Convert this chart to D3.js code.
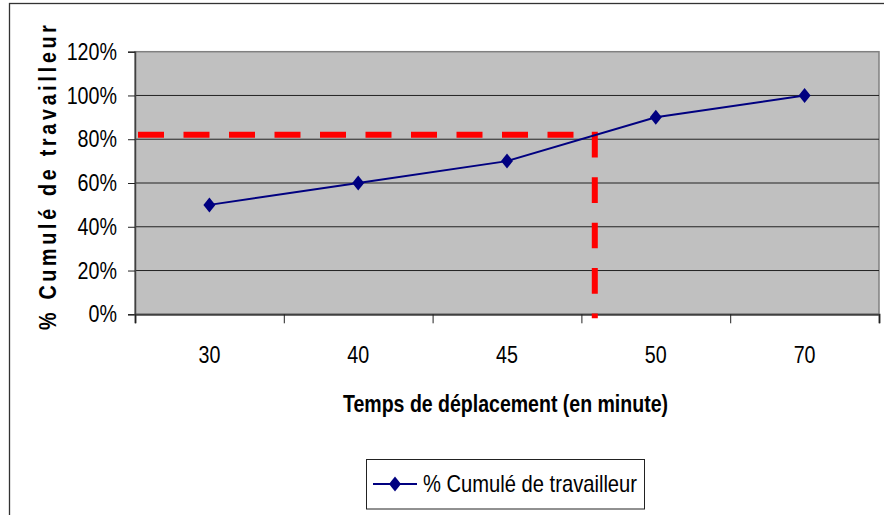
<!DOCTYPE html>
<html>
<head>
<meta charset="utf-8">
<script src="https://cdn.jsdelivr.net/npm/d3@7/dist/d3.min.js"></script>
<style>
  html, body { margin: 0; padding: 0; background: #fff; }
  svg { display: block; }
  text { font-family: "Liberation Sans", Arial, "Helvetica Neue", sans-serif; fill: #000; }
</style>
</head>
<body>
<svg id="chart" width="884" height="515"></svg>
<script>
// ---- data ----
const categories = ["30", "40", "45", "50", "70"];
const values = [0.50, 0.60, 0.70, 0.90, 1.00];
const yTicks = [0, 0.2, 0.4, 0.6, 0.8, 1.0, 1.2];
const seriesName = "% Cumulé de travailleur";
const xTitle = "Temps de déplacement (en minute)";
const yTitle = "% Cumulé de travailleur";
const refLevel = 0.82;   // horizontal reference (82 %)
const refIndex = 2.59;   // position along the category axis (between 45 and 50)

// ---- layout ----
const plot = { left: 135, top: 51.7, right: 879, bottom: 314.3 };
const FS = 24;
const NARROW = 0.82;     // narrow-face width ratio

const svg = d3.select("#chart");

// outer chart frame
svg.append("rect")
  .attr("x", 9.5).attr("y", 3.5).attr("width", 900).attr("height", 600)
  .attr("fill", "#fff").attr("stroke", "#333").attr("stroke-width", 1.3);

// scales
const xBand = d3.scaleBand().domain(categories).range([plot.left, plot.right]).padding(0);
const xIdx = d3.scaleLinear().domain([0, categories.length]).range([plot.left, plot.right]);
const y = d3.scaleLinear().domain([0, 1.2]).range([plot.bottom, plot.top]);

// plot background
svg.append("rect")
  .attr("x", plot.left).attr("y", plot.top)
  .attr("width", plot.right - plot.left).attr("height", plot.bottom - plot.top)
  .attr("fill", "#C0C0C0").attr("stroke", "#808080").attr("stroke-width", 1.5);

// gridlines
svg.append("g").selectAll("line")
  .data(yTicks.filter(d => d > 0 && d < 1.2))
  .join("line")
  .attr("x1", plot.left).attr("x2", plot.right)
  .attr("y1", d => y(d)).attr("y2", d => y(d))
  .attr("stroke", "#222").attr("stroke-width", 1);

// y axis
const yAxis = svg.append("g")
  .attr("transform", `translate(${plot.left},0)`)
  .call(d3.axisLeft(y).tickValues(yTicks).tickFormat(d3.format(".0%")).tickSize(7).tickPadding(11));
yAxis.select(".domain").attr("stroke", "#404040").attr("stroke-width", 1.5);
yAxis.selectAll(".tick line").attr("stroke", "#222");
yAxis.selectAll("text").attr("font-size", FS).attr("font-family", null).attr("dy", "0.32em");

// x axis: ticks at category boundaries
const xTickAxis = svg.append("g")
  .attr("transform", `translate(0,${plot.bottom})`)
  .call(d3.axisBottom(xIdx).tickValues(d3.range(categories.length + 1)).tickFormat("").tickSize(9));
xTickAxis.select(".domain").attr("stroke", "#404040").attr("stroke-width", 2);
xTickAxis.selectAll(".tick line").attr("stroke", "#222");

// x axis labels at band centres
const xLabAxis = svg.append("g")
  .attr("transform", `translate(0,${plot.bottom})`)
  .call(d3.axisBottom(xBand).tickSize(0).tickPadding(32));
xLabAxis.select(".domain").remove();
xLabAxis.selectAll("text").attr("font-size", FS).attr("font-family", null);

// reference lines (red dashed)
svg.append("line")
  .attr("x1", plot.left + 3).attr("x2", xIdx(refIndex + 0.5) - 3)
  .attr("y1", y(refLevel)).attr("y2", y(refLevel))
  .attr("stroke", "#FF0000").attr("stroke-width", 6).attr("stroke-dasharray", "26,19.5");
svg.append("line")
  .attr("x1", xIdx(refIndex + 0.5)).attr("x2", xIdx(refIndex + 0.5))
  .attr("y1", y(refLevel) - 3).attr("y2", plot.bottom + 4)
  .attr("stroke", "#FF0000").attr("stroke-width", 6).attr("stroke-dasharray", "25.7,19.7");

// series line
const cx = c => xBand(c) + xBand.bandwidth() / 2;
svg.append("path")
  .datum(values)
  .attr("fill", "none").attr("stroke", "#000080").attr("stroke-width", 2)
  .attr("d", d3.line().x((d, i) => cx(categories[i])).y(d => y(d)));

const diamond = "M0,-7.5L6,0L0,7.5L-6,0Z";
svg.append("g").selectAll("path")
  .data(values)
  .join("path")
  .attr("transform", (d, i) => `translate(${cx(categories[i])},${y(d)})`)
  .attr("d", diamond).attr("fill", "#000080");

// x title
const xt = svg.append("text")
  .attr("x", (plot.left + plot.right) / 2 - 1.5).attr("y", 411.7)
  .attr("text-anchor", "middle").attr("font-size", FS).attr("font-weight", "bold")
  .text(xTitle);

// y title: narrow bold glyphs, widely letter-spaced
const yt = svg.append("text")
  .attr("transform", `translate(55.5,177.5) rotate(-90) scale(${NARROW},1)`)
  .attr("text-anchor", "middle").attr("font-size", FS).attr("font-weight", "bold")
  .text(yTitle);

// legend
const lg = svg.append("g");
lg.append("rect").attr("x", 366.5).attr("y", 459.5).attr("width", 278).attr("height", 49.5)
  .attr("fill", "#fff").attr("stroke", "#222").attr("stroke-width", 1);
lg.append("line").attr("x1", 373).attr("x2", 417).attr("y1", 484).attr("y2", 484)
  .attr("stroke", "#000080").attr("stroke-width", 2);
lg.append("path").attr("transform", "translate(395,484)").attr("d", diamond).attr("fill", "#000080");
const lt = lg.append("text").attr("x", 423).attr("y", 492).attr("font-size", FS).text(seriesName);

// width normalisation: emulate the narrow face of the original
svg.selectAll(".tick text").each(function () {
  const w = this.getComputedTextLength();
  d3.select(this).attr("textLength", w * NARROW).attr("lengthAdjust", "spacingAndGlyphs");
});
xt.attr("textLength", 325).attr("lengthAdjust", "spacingAndGlyphs");
lt.attr("textLength", 214).attr("lengthAdjust", "spacingAndGlyphs");
yt.attr("textLength", 305 / NARROW).attr("lengthAdjust", "spacing");
</script>
</body>
</html>
